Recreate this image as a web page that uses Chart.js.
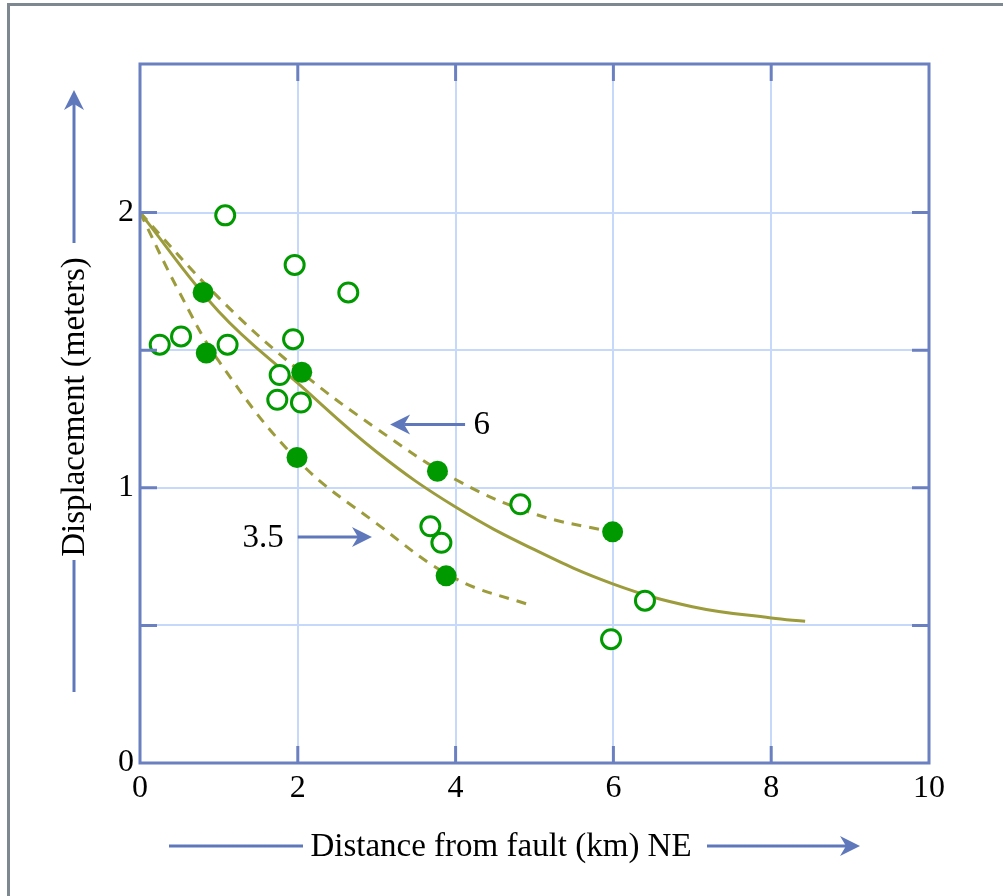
<!DOCTYPE html>
<html>
<head>
<meta charset="utf-8">
<script src="https://cdn.jsdelivr.net/npm/chart.js@4.4.1/dist/chart.umd.min.js"></script>
<style>
html,body{margin:0;padding:0;background:#fff;}
canvas{display:block;}
</style>
</head>
<body>
<canvas id="c" width="1003" height="896"></canvas>
<script>
// ---- data ----
const openX = [1.08, 1.96, 2.64, 0.25, 0.52, 1.11, 1.94, 1.77, 1.74, 2.04, 4.82, 3.68, 3.82, 6.40, 5.97];
const openY = [1.99, 1.81, 1.71, 1.52, 1.55, 1.52, 1.54, 1.41, 1.32, 1.31, 0.94, 0.86, 0.80, 0.59, 0.45];
const filledX = [0.80, 0.84, 2.05, 1.99, 3.77, 5.99, 3.88];
const filledY = [1.71, 1.49, 1.42, 1.11, 1.06, 0.84, 0.68];

const meanX = [0, 1, 2, 3, 4, 5, 6, 7, 8, 8.43];
const meanY = [2.0, 1.64, 1.38, 1.13, 0.93, 0.775, 0.65, 0.568, 0.527, 0.515];
const upperX = [0, 1, 2, 3, 4, 5, 5.93];
const upperY = [2.0, 1.69, 1.43, 1.215, 1.03, 0.905, 0.842];
const lowerX = [0, 0.5, 1, 2, 3, 4, 4.98];
const lowerY = [2.0, 1.71, 1.46, 1.10, 0.87, 0.67, 0.57];

const xTicks = [0, 2, 4, 6, 8, 10];
const yTickLabels = [0, 1, 2];
const yGrid = [0.5, 1, 1.5, 2];
const xGrid = [2, 4, 6, 8];

const xTitle = 'Distance from fault (km) NE';
const yTitle = 'Displacement (meters)';
const upperLabel = '6';
const lowerLabel = '3.5';

function pts(xs, ys){ return xs.map((x,i)=>({x:x, y:ys[i]})); }

const FRAME = '#6a80c0';
const GRID = '#c6d9fb';
const ARROW = '#5f78bb';
const OLIVE = '#9c9c3c';
const GREEN = '#009900';
const FONT = '"Liberation Serif", "Times New Roman", serif';

function arrowHead(ctx, tx, ty, dx, dy){
  const L = 20, W = 10, N = 14;
  const px = -dy, py = dx;
  ctx.beginPath();
  ctx.moveTo(tx, ty);
  ctx.lineTo(tx - dx*L + px*W, ty - dy*L + py*W);
  ctx.lineTo(tx - dx*N, ty - dy*N);
  ctx.lineTo(tx - dx*L - px*W, ty - dy*L - py*W);
  ctx.closePath();
  ctx.fill();
}

const deco = {
  id: 'deco',
  beforeDraw(chart){
    const ctx = chart.ctx;
    ctx.save();
    ctx.fillStyle = '#fff';
    ctx.fillRect(0,0,chart.width,chart.height);
    ctx.restore();
  },
  afterDraw(chart){
    const ctx = chart.ctx;
    const xs = chart.scales.x, ys = chart.scales.y;
    const a = chart.chartArea;
    ctx.save();
    ctx.strokeStyle = FRAME; ctx.lineWidth = 3;
    ctx.beginPath();
    yGrid.forEach(v=>{
      const p = ys.getPixelForValue(v);
      ctx.moveTo(a.left, p); ctx.lineTo(a.left+17, p);
      ctx.moveTo(a.right, p); ctx.lineTo(a.right-17, p);
    });
    xGrid.forEach(v=>{
      const p = xs.getPixelForValue(v);
      ctx.moveTo(p, a.bottom); ctx.lineTo(p, a.bottom-17);
      ctx.moveTo(p, a.top); ctx.lineTo(p, a.top+17);
    });
    ctx.stroke();
    ctx.lineWidth = 3;
    ctx.strokeRect(a.left, a.top, a.right-a.left, a.bottom-a.top);

    ctx.strokeStyle = '#7e8890'; ctx.lineWidth = 3;
    ctx.beginPath();
    ctx.moveTo(8.5, chart.height); ctx.lineTo(8.5, 4.5); ctx.lineTo(chart.width, 4.5);
    ctx.stroke();

    ctx.strokeStyle = ARROW; ctx.fillStyle = ARROW; ctx.lineWidth = 3;
    const uy = ys.getPixelForValue(1.23);
    const u0 = xs.getPixelForValue(4.12), u1 = xs.getPixelForValue(3.17);
    ctx.beginPath(); ctx.moveTo(u0, uy); ctx.lineTo(u1+14, uy); ctx.stroke();
    arrowHead(ctx, u1, uy, -1, 0);
    const ly = ys.getPixelForValue(0.821);
    const l0 = xs.getPixelForValue(2.0), l1 = xs.getPixelForValue(2.94);
    ctx.beginPath(); ctx.moveTo(l0, ly); ctx.lineTo(l1-14, ly); ctx.stroke();
    arrowHead(ctx, l1, ly, 1, 0);

    ctx.fillStyle = '#000';
    ctx.font = '33px ' + FONT;
    ctx.textAlign = 'center'; ctx.textBaseline = 'middle';
    ctx.fillText(upperLabel, xs.getPixelForValue(4.33), uy + 1);
    ctx.fillText(lowerLabel, xs.getPixelForValue(1.56), ly + 1);

    ctx.font = '33px ' + FONT;
    ctx.textBaseline = 'alphabetic';
    ctx.fillText(xTitle, 501, 856);
    ctx.strokeStyle = ARROW; ctx.fillStyle = ARROW;
    ctx.beginPath(); ctx.moveTo(169, 846); ctx.lineTo(303, 846); ctx.stroke();
    ctx.beginPath(); ctx.moveTo(707, 846); ctx.lineTo(846, 846); ctx.stroke();
    arrowHead(ctx, 860, 846, 1, 0);

    ctx.save();
    ctx.translate(84, 407);
    ctx.rotate(-Math.PI/2);
    ctx.fillStyle = '#000';
    ctx.textAlign = 'center';
    ctx.font = '33px ' + FONT;
    ctx.fillText(yTitle, 0, 0);
    ctx.restore();
    ctx.beginPath(); ctx.moveTo(74, 692); ctx.lineTo(74, 560); ctx.stroke();
    ctx.beginPath(); ctx.moveTo(74, 243); ctx.lineTo(74, 104); ctx.stroke();
    arrowHead(ctx, 74, 90, 0, -1);
    ctx.restore();
  }
};

const lineCommon = {
  type: 'line',
  showLine: true,
  pointRadius: 0,
  borderColor: OLIVE,
  borderWidth: 3,
  fill: false,
  tension: 0.4,
  order: 3
};

new Chart(document.getElementById('c'), {
  type: 'scatter',
  data: {
    datasets: [
      Object.assign({}, lineCommon, { label: 'mean', data: pts(meanX, meanY) }),
      Object.assign({}, lineCommon, { label: '6', data: pts(upperX, upperY), borderDash: [10, 8] }),
      Object.assign({}, lineCommon, { label: '3.5', data: pts(lowerX, lowerY), borderDash: [10, 8] }),
      {
        label: 'open', data: pts(openX, openY), pointRadius: 9.5, pointHoverRadius: 9.5,
        pointBackgroundColor: '#ffffff', pointBorderColor: GREEN, pointBorderWidth: 3,
        showLine: false, order: 1
      },
      {
        label: 'filled', data: pts(filledX, filledY), pointRadius: 10.5, pointHoverRadius: 10.5,
        pointBackgroundColor: GREEN, pointBorderColor: GREEN, pointBorderWidth: 0,
        showLine: false, order: 1
      }
    ]
  },
  options: {
    responsive: false,
    animation: false,
    devicePixelRatio: 1,
    layout: { padding: { left: 0, top: 64, right: 74, bottom: 0 } },
    plugins: { legend: { display: false }, tooltip: { enabled: false } },
    events: [],
    scales: {
      x: {
        type: 'linear', min: 0, max: 10,
        afterFit(s){ s.height = 133; },
        afterBuildTicks(s){ s.ticks = xTicks.map(v=>({value:v})); },
        ticks: { color: '#000', font: { family: FONT, size: 32 }, padding: 6, maxRotation: 0 },
        grid: { color: GRID, lineWidth: 2, drawTicks: false },
        border: { display: false }
      },
      y: {
        type: 'linear', min: 0, max: 2.54,
        afterFit(s){ s.width = 140; },
        afterBuildTicks(s){ s.ticks = [0].concat(yGrid).map(v=>({value:v})); },
        ticks: {
          color: '#000', font: { family: FONT, size: 32 }, padding: 6,
          callback: (v)=> yTickLabels.includes(v) ? String(v) : ''
        },
        grid: { color: GRID, lineWidth: 2, drawTicks: false },
        border: { display: false }
      }
    }
  },
  plugins: [deco]
});
</script>
</body>
</html>
